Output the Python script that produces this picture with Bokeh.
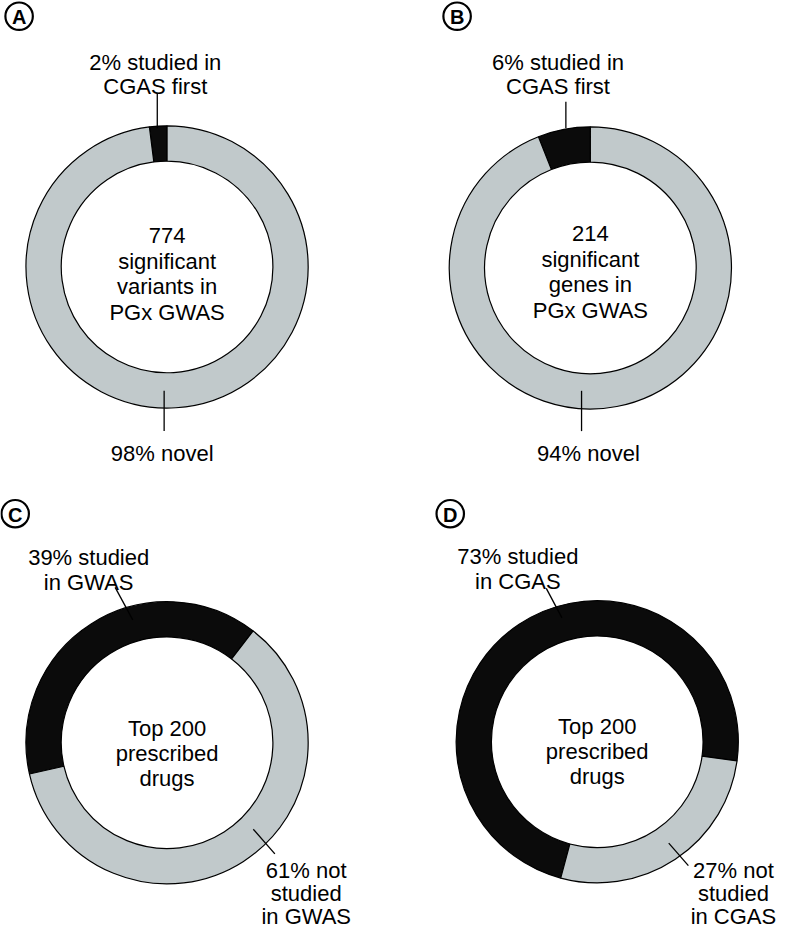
import numpy as np
from bokeh.plotting import figure
from bokeh.models import Range1d
from bokeh.core.properties import value
from bokeh.embed import file_html
from bokeh.resources import INLINE

# ---------------- data ----------------
panels = ["A", "B", "C", "D"]
highlight_pct = [2, 6, 39, 73]
other_pct = [98, 94, 61, 27]
center_texts = [
    ["774", "significant", "variants in", "PGx GWAS"],
    ["214", "significant", "genes in", "PGx GWAS"],
    ["Top 200", "prescribed", "drugs"],
    ["Top 200", "prescribed", "drugs"],
]
highlight_labels = [
    ["2% studied in", "CGAS first"],
    ["6% studied in", "CGAS first"],
    ["39% studied", "in GWAS"],
    ["73% studied", "in CGAS"],
]
other_labels = [
    ["98% novel"],
    ["94% novel"],
    ["61% not", "studied", "in GWAS"],
    ["27% not", "studied", "in CGAS"],
]

# ---------------- layout (page pixel coordinates, y down) ----------------
W, H = 794, 949
ring_cx = [170, 602, 170, 609]
ring_cy = [271, 272, 755, 754]
r_out, r_in = 144, 108
start_deg = [90, 90, 52.4, -7.8]
badge_xy = [(19, 16), (466, 16), (15, 522), (459, 522)]
center_first_base = [239, 237, 740, 738]
center_pitch = [26, 26, 25.5, 25.5]
hl_x = [158, 569, 90, 528]
hl_first_base = [63, 63, 567, 566]
hl_pitch = 24.5
ot_x = [165, 600, 312, 748]
ot_first_base = [461, 461, 885, 885]
ot_pitch = 23.5
hl_leader = [(160, 94, 160, 130), (577, 103, 577, 130), (117, 597, 135, 630), (557, 598, 573, 628)]
ot_leader = [(167, 397, 167, 438), (593, 397, 593, 438), (258, 843, 280, 868), (682, 857, 702, 880)]

DARK = "#0b0b0b"
GRAY = "#c1c9cb"
FONT = value("Liberation Sans")
FS = "22px"


def Y(y):
    return H - y


p = figure(width=778, height=933, output_backend="svg", toolbar_location=None,
           x_range=Range1d(0, W), y_range=Range1d(0, H), min_border=0)
p.axis.visible = False
p.grid.visible = False
p.outline_line_color = None
p.background_fill_color = "white"

for i in range(4):
    cx, cy = ring_cx[i], Y(ring_cy[i])
    s = np.radians(start_deg[i])
    e = s + np.radians(highlight_pct[i] * 3.6)
    e2 = e + np.radians(other_pct[i] * 3.6)
    p.annular_wedge(x=[cx], y=[cy], inner_radius=r_in, outer_radius=r_out,
                    start_angle=[s], end_angle=[e], fill_color=DARK,
                    line_color="black", line_width=1.2)
    p.annular_wedge(x=[cx], y=[cy], inner_radius=r_in, outer_radius=r_out,
                    start_angle=[e], end_angle=[e2], fill_color=GRAY,
                    line_color="black", line_width=1.2)

    # centre text
    lines = center_texts[i]
    ys = [Y(center_first_base[i] + k * center_pitch[i]) for k in range(len(lines))]
    p.text(x=[ring_cx[i]] * len(lines), y=ys, text=lines, text_font=FONT,
           text_font_size=FS, text_align="center", text_baseline="alphabetic",
           text_color="black")

    # highlight label
    lines = highlight_labels[i]
    ys = [Y(hl_first_base[i] + k * hl_pitch) for k in range(len(lines))]
    p.text(x=[hl_x[i]] * len(lines), y=ys, text=lines, text_font=FONT,
           text_font_size=FS, text_align="center", text_baseline="alphabetic",
           text_color="black")

    # other label
    lines = other_labels[i]
    ys = [Y(ot_first_base[i] + k * ot_pitch) for k in range(len(lines))]
    p.text(x=[ot_x[i]] * len(lines), y=ys, text=lines, text_font=FONT,
           text_font_size=FS, text_align="center", text_baseline="alphabetic",
           text_color="black")

    # leaders
    for (x0, y0, x1, y1) in (hl_leader[i], ot_leader[i]):
        p.segment(x0=[x0], y0=[Y(y0)], x1=[x1], y1=[Y(y1)], line_color="black",
                  line_width=1.3)

    # panel badge
    bx, by = badge_xy[i]
    p.circle(x=[bx], y=[Y(by)], radius=14, fill_color="white",
             line_color="black", line_width=2.2)
    p.text(x=[bx], y=[Y(by) - 1], text=[panels[i]], text_font=FONT,
           text_font_size="20px", text_font_style="bold", text_align="center",
           text_baseline="middle", text_color="black")

open("out.html", "w").write(file_html(p, INLINE))
